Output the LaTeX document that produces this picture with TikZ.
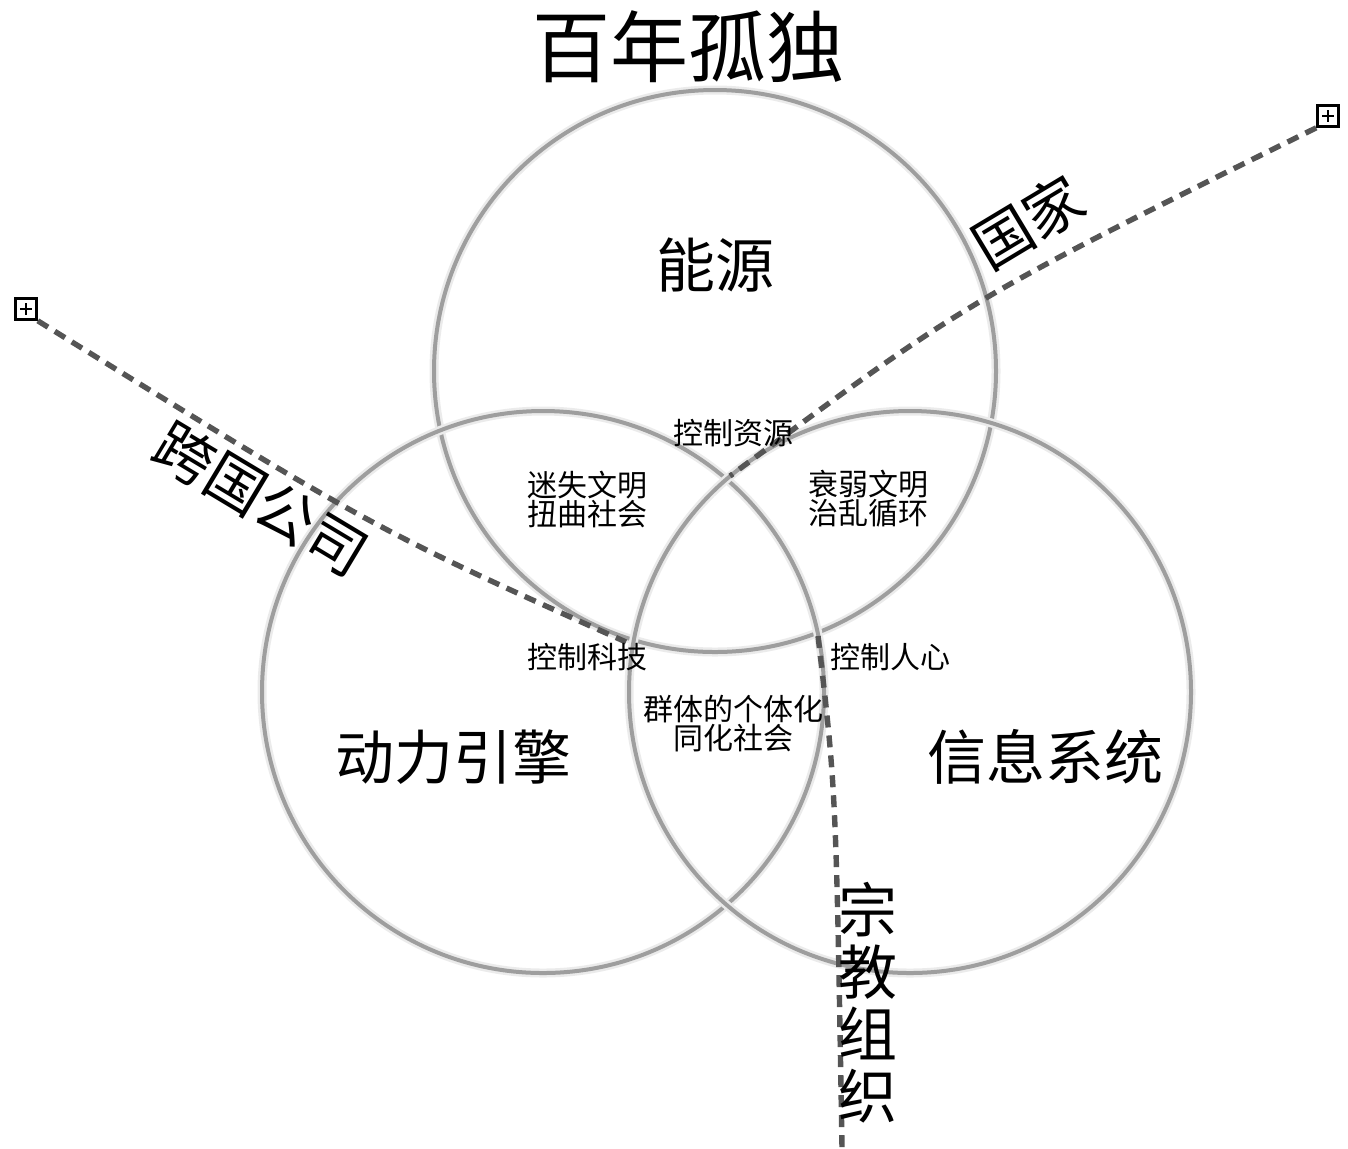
\documentclass[tikz,border=0pt]{standalone}
\usepackage{fontspec}
\setmainfont{Noto Sans CJK SC}
\usepackage{xcolor}
\usepackage{tikz}
\usetikzlibrary{positioning}
\definecolor{ringgray}{RGB}{158,158,158}
\definecolor{dashgray}{RGB}{85,85,85}

\begin{document}
\begin{tikzpicture}[x=0.5pt, y=-0.5pt,
  ring/.style={circle, draw=ringgray, line width=2pt, minimum size=281pt, inner sep=0pt,
    preaction={draw=black!8, line width=4.5pt}},
  border/.style={draw=dashgray, line width=2.7pt, dash pattern=on 6pt off 4pt},
  plusbox/.style={draw, line width=1.3pt, minimum size=10.5pt, inner sep=0pt,
    path picture={\draw[line width=1pt]
      ([xshift=2.3pt]path picture bounding box.west) -- ([xshift=-2.3pt]path picture bounding box.east)
      ([yshift=-2.3pt]path picture bounding box.north) -- ([yshift=2.3pt]path picture bounding box.south);}},
  titletext/.style={font=\fontsize{39pt}{41pt}\selectfont},
  bigtext/.style={font=\fontsize{29.5pt}{31pt}\selectfont, align=center},
  smalltext/.style={font=\fontsize{15pt}{14.5pt}\selectfont, align=center}]
\useasboundingbox (0,0) rectangle (1348,1148);

% three rings
\node[ring] (energy) at (715,371) {};
\node[ring] (engine) at (543,692) {};
\node[ring] (info) at (910,692) {};

% dashed borders
\node[plusbox] (corpbox) at (26,309) {};
\node[plusbox] (statebox) at (1328,116) {};
\coordinate (corpend) at (626,642);
\coordinate (stateend) at (730,476);
\coordinate (faithtop) at (818,636);
\coordinate (faithend) at (842,1148);
\draw[border] (corpbox.south east) .. controls (374,529) .. (corpend);
\draw[border] (statebox.south west) .. controls (968,300) .. (stateend);
\draw[border] (faithtop) .. controls (836,790) .. (faithend);

% labels
\node[titletext] (title) at (688,47) {百年孤独};
\node[bigtext] (energylbl) at (715,265) {能源};
\node[bigtext] (enginelbl) at (453,757) {动力引擎};
\node[bigtext] (infolbl) at (1045,757) {信息系统};
\node[smalltext] (res) at (733,433) {控制资源};
\node[smalltext] (lost) at (587,499) {迷失文明\\扭曲社会};
\node[smalltext] (weak) at (868,499) {衰弱文明\\治乱循环};
\node[smalltext] (tech) at (587,657) {控制科技};
\node[smalltext] (mind) at (890,657) {控制人心};
\node[smalltext] (mass) at (733,724) {群体的个体化\\同化社会};
\node[bigtext, rotate=-31] (corp) at (261,499) {跨国公司};
\node[bigtext, rotate=31] (state) at (1028,222) {国家};
\node[bigtext] (faith) at (868,1003) {宗\\教\\组\\织};
\end{tikzpicture}
\end{document}
